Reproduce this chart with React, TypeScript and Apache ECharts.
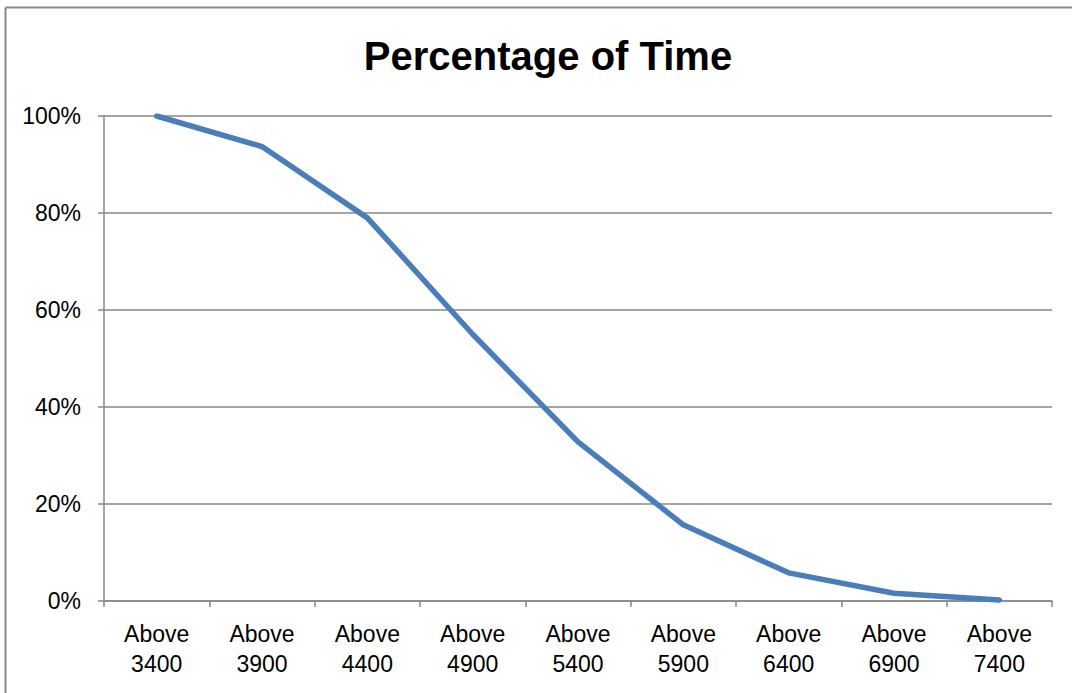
import React, { useEffect, useRef } from "react";
import * as echarts from "echarts";

const categories = [
  "Above\n3400",
  "Above\n3900",
  "Above\n4400",
  "Above\n4900",
  "Above\n5400",
  "Above\n5900",
  "Above\n6400",
  "Above\n6900",
  "Above\n7400",
];
const percentValues = [1.0, 0.937, 0.79, 0.55, 0.328, 0.157, 0.058, 0.016, 0.002];
const yTicks = [0, 0.2, 0.4, 0.6, 0.8, 1.0];
const titleText = "Percentage of Time";

export default function App() {
  const ref = useRef<HTMLDivElement>(null);
  useEffect(() => {
    if (!ref.current) return;
    const chart = echarts.init(ref.current, null, { renderer: "svg" });
    const axisGray = "#878787";
    const font = "'Liberation Sans Narrow', 'Arial Narrow', 'Liberation Sans', Arial, sans-serif";
    chart.setOption({
      animation: false,
      backgroundColor: "#ffffff",
      title: {
        text: titleText,
        left: 543,
        top: 31,
        textAlign: "center",
        textStyle: {
          fontFamily: font,
          fontWeight: "bold",
          fontSize: 40,
          color: "#000000",
        },
      },
      graphic: [
        {
          type: "line",
          shape: { x1: 5.5, y1: 7.5, x2: 1072, y2: 7.5 },
          style: { stroke: "#888888", lineWidth: 2 },
        },
        {
          type: "line",
          shape: { x1: 5.5, y1: 7.5, x2: 5.5, y2: 693 },
          style: { stroke: "#888888", lineWidth: 2 },
        },
      ],
      grid: { left: 104, right: 20, top: 116, bottom: 92, containLabel: false },
      xAxis: {
        type: "category",
        data: categories,
        boundaryGap: true,
        axisLine: { show: true, lineStyle: { color: axisGray, width: 1.5 } },
        axisTick: { show: true, length: 6, alignWithLabel: false, lineStyle: { color: axisGray, width: 1.5 } },
        axisLabel: {
          color: "#000000",
          fontFamily: font,
          fontSize: 23,
          lineHeight: 30,
          margin: 18,
          interval: 0,
        },
      },
      yAxis: {
        type: "value",
        min: 0,
        max: 1,
        interval: 0.2,
        axisLine: { show: true, lineStyle: { color: axisGray, width: 1.5 } },
        axisTick: { show: true, length: 6, lineStyle: { color: axisGray, width: 1.5 } },
        splitLine: { show: true, lineStyle: { color: axisGray, width: 1.5 } },
        axisLabel: {
          color: "#000000",
          fontFamily: font,
          fontSize: 23,
          margin: 23,
          formatter: (v: number) =>
            yTicks.some((t) => Math.abs(t - v) < 1e-9) ? `${Math.round(v * 100)}%` : "",
        },
      },
      series: [
        {
          type: "line",
          data: percentValues,
          symbol: "none",
          lineStyle: { color: "#4a7ebb", width: 5.5, cap: "round", join: "round" },
        },
      ],
    });
    return () => chart.dispose();
  }, []);
  return (
    <div
      ref={ref}
      style={{ position: "fixed", left: 0, top: 0, width: 1072, height: 693 }}
    />
  );
}
